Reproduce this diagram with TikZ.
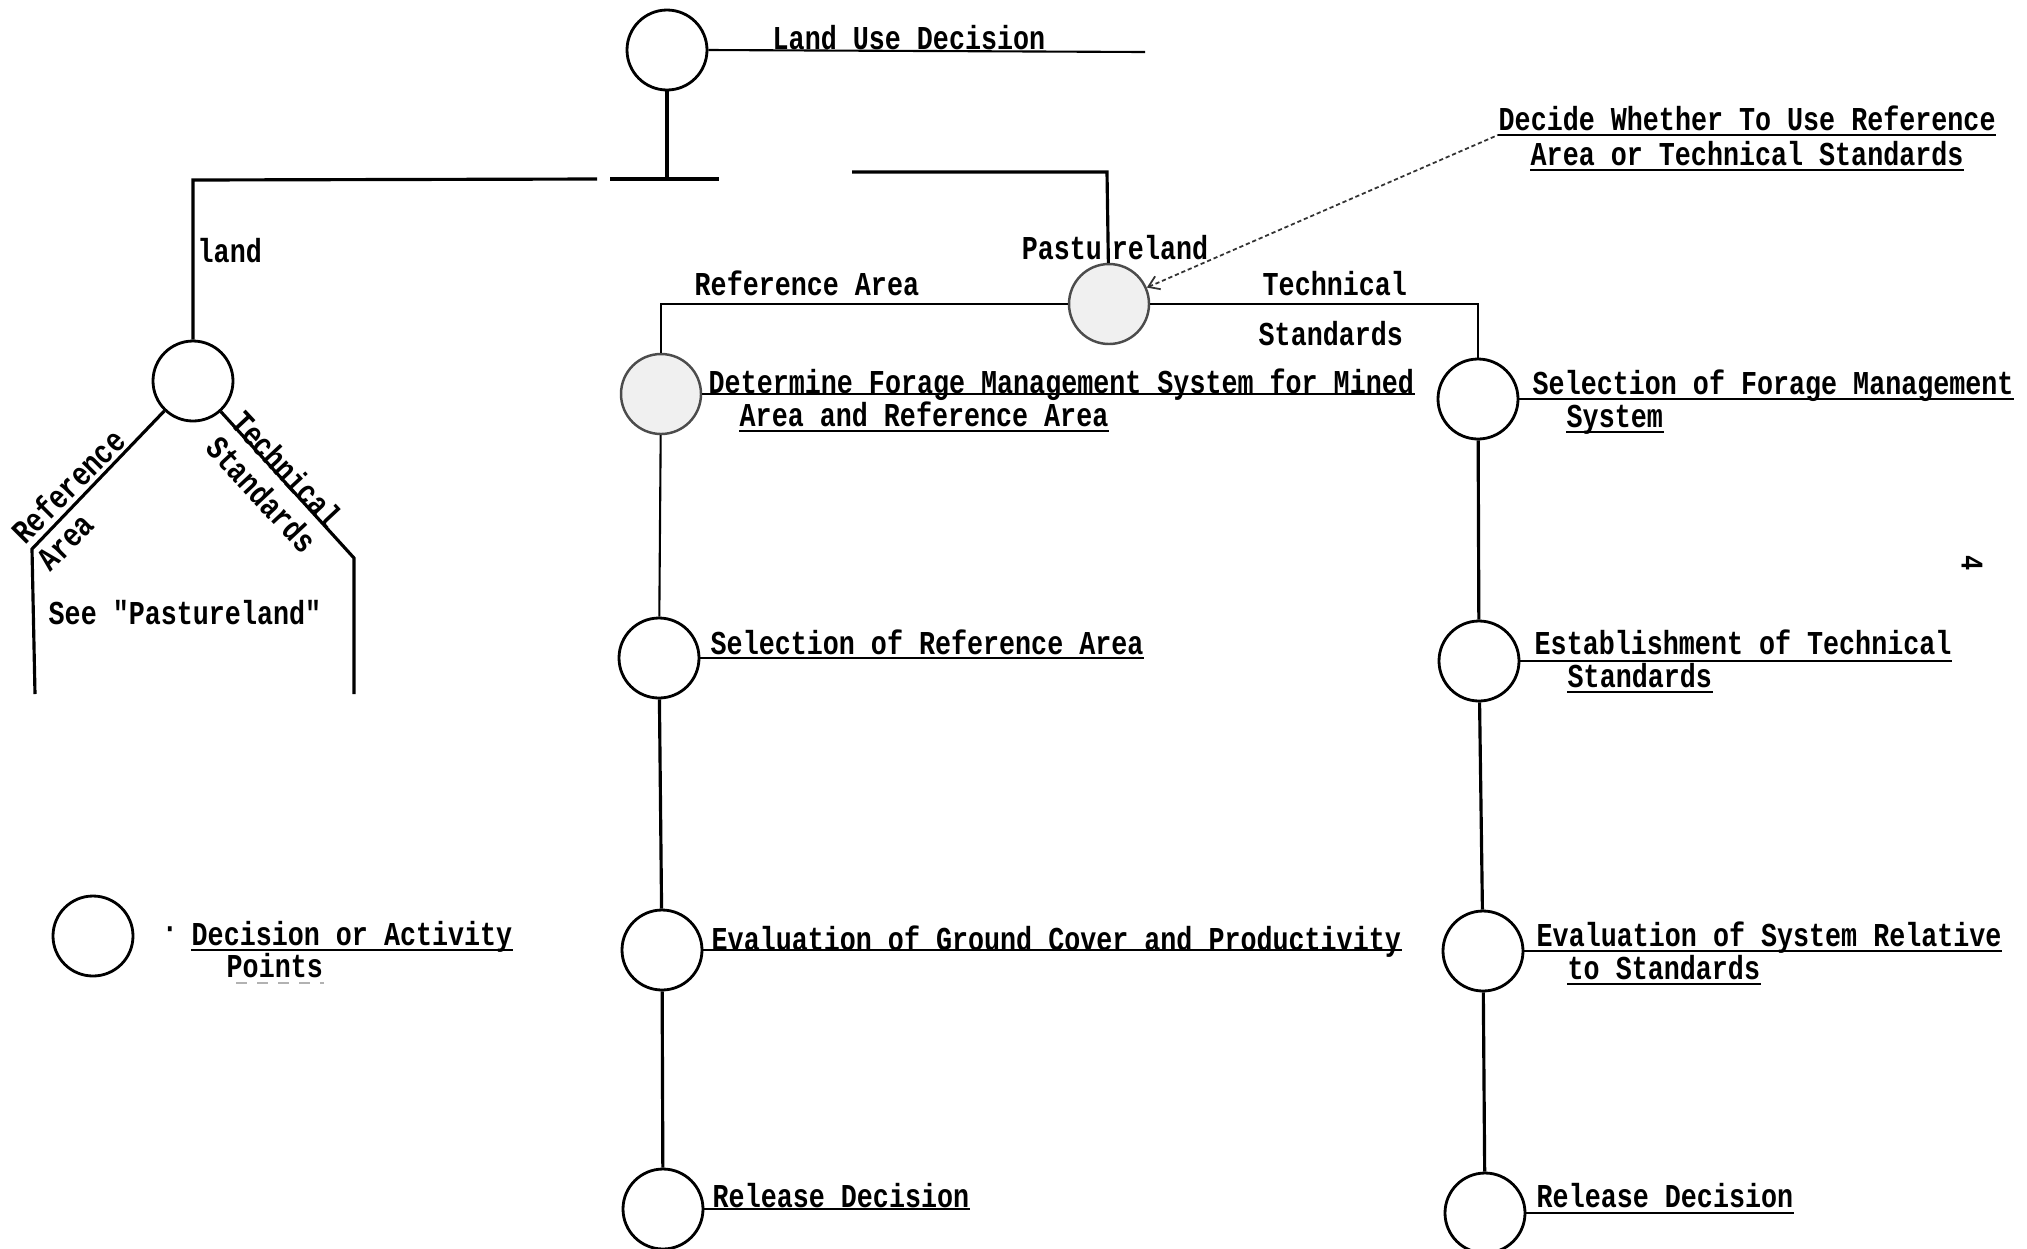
\documentclass[tikz,border=0pt]{standalone}
\usepackage{fontspec}
\setmonofont{Liberation Mono}[FakeStretch=0.8]
\usetikzlibrary{arrows.meta}
\newcommand\twfont{\ttfamily\bfseries\fontsize{9.5}{11}\selectfont}

\begin{document}
\begin{tikzpicture}[
  x=0.1mm, y=-0.1mm,
  font=\twfont,
  dpt/.style={circle, draw, line width=0.8pt, minimum size=8mm, inner sep=0pt},
  shpt/.style={dpt, draw=black!70, line width=0.7pt, fill=gray!12},
  lbl/.style={anchor=base west, inner sep=0pt},
  tag/.style={inner sep=0pt},
  ln/.style={line width=0.9pt},
  thn/.style={line width=0.6pt},
  ul/.style={line width=0.6pt},
  lead/.style={line width=0.5pt, dash pattern=on 1.2pt off 0.8pt, black!80}
]
\useasboundingbox (0,0) rectangle (2027,1248);

% decision points
\node[dpt] (landuse) at (667,50) {};
\node[dpt] (crop) at (193,381) {};
\node[dpt] (legend) at (93,936) {};
\node[shpt] (pasture) at (1109,304) {};
\node[shpt] (detfm) at (661,394) {};
\node[dpt] (selref) at (659,658) {};
\node[dpt] (evalgc) at (662,950) {};
\node[dpt] (relref) at (663,1209) {};
\node[dpt] (selfm) at (1478,399) {};
\node[dpt] (estts) at (1479,661) {};
\node[dpt] (evalsr) at (1483,951) {};
\node[dpt] (relts) at (1485,1213) {};

% texts beside the points
\node[lbl] (tLand) at (772,49) {Land Use Decision};
\node[lbl] (tDet) at (708,393) {Determine Forage Management System for Mined};
\node[lbl] (tDetb) at (739,426) {Area and Reference Area};
\node[lbl] (tSelRef) at (710,654) {Selection of Reference Area};
\node[lbl] (tEvalGC) at (711,950) {Evaluation of Ground Cover and Productivity};
\node[lbl] (tRelRef) at (712,1207) {Release Decision};
\node[lbl] (tSelFM) at (1532,394) {Selection of Forage Management};
\node[lbl] (tSelFMb) at (1566,427) {System};
\node[lbl] (tEstTS) at (1534,654) {Establishment of Technical};
\node[lbl] (tEstTSb) at (1567,687) {Standards};
\node[lbl] (tEvalSR) at (1536,946) {Evaluation of System Relative};
\node[lbl] (tEvalSRb) at (1567,979) {to Standards};
\node[lbl] (tRelTS) at (1536,1207) {Release Decision};
\node[lbl] (tDec) at (1498,130) {Decide Whether To Use Reference};
\node[lbl] (tDecb) at (1530,165) {Area or Technical Standards};
\node[tag] (dot) at (170,933) {·};
\node[lbl] (tLeg) at (191,945) {Decision or Activity};
\node[lbl] (tLegb) at (226,977) {Points};

% branch labels
\node[lbl] (tCrop) at (197,262) {land};
\node[tag] (tPast) at (1115,248) {Pastu\kern1mm reland};
\node[lbl] (tRefA) at (694,295) {Reference Area};
\node[lbl] (tTech) at (1262,295) {Technical};
\node[lbl] (tStd) at (1258,345) {Standards};
\node[lbl] (tSee) at (48,624) {See "Pastureland"};
\node[tag, rotate=45] (tRef) at (68,486) {Reference};
\node[tag, rotate=45] (tArea) at (66,542) {Area};
\node[tag, rotate=-47] (tTech2) at (287,469) {Technical};
\node[tag, rotate=-47] (tStd2) at (262,494) {Standards};
\node[tag, rotate=-90, font=\twfont\small] (pageno) at (1972,563) {4};

% top tree
\coordinate (bL) at (193,180);
\coordinate (bG1) at (597,179);
\coordinate (bG2) at (610,179);
\coordinate (bG3) at (719,179);
\coordinate (bR1) at (852,172);
\coordinate (bR) at (1107,172);
\coordinate (luEnd) at (1145,52);
\draw[ul] (landuse.east) -- (luEnd);
\draw[ln] (landuse) -- (landuse |- bG2);
\draw[ln] (crop) -- (bL) -- (bG1);
\draw[ln] (bG2) -- (bG3);
\draw[ln] (bR1) -- (bR) -- (pasture);

% cropland branch
\coordinate (refA) at (32,549);
\coordinate (refB) at (35,694);
\coordinate (tsA) at (354,558);
\coordinate (tsB) at (354,694);
\draw[ln] (crop) -- (refA) -- (refB);
\draw[ln] (crop) -- (tsA) -- (tsB);

% pastureland branch
\draw[thn] (pasture) -- (pasture -| detfm) -- (detfm);
\draw[thn] (pasture) -- (pasture -| selfm) -- (selfm);
\draw[thn] (detfm) -- (selref);
\draw[ln] (selref) -- (evalgc);
\draw[ln] (evalgc) -- (relref);
\draw[ln] (selfm) -- (estts);
\draw[ln] (estts) -- (evalsr);
\draw[ln] (evalsr) -- (relts);
\draw[lead, {Straight Barb[length=3pt,width=4pt]}-] (pasture) -- ([yshift=-0.5mm]tDec.base west);

% underlines
\draw[ul] (detfm.east) -- (detfm.east -| tDet.east);
\draw[ul] (selref.east) -- (selref.east -| tSelRef.east);
\draw[ul] (evalgc.east) -- (evalgc.east -| tEvalGC.east);
\draw[ul] (relref.east) -- (relref.east -| tRelRef.east);
\draw[ul] (selfm.east) -- (selfm.east -| tSelFM.east);
\draw[ul] (estts.east) -- (estts.east -| tEstTS.east);
\draw[ul] (evalsr.east) -- (evalsr.east -| tEvalSR.east);
\draw[ul] (relts.east) -- (relts.east -| tRelTS.east);
\foreach \t in {tDetb, tSelFMb, tEstTSb, tEvalSRb, tDec, tDecb, tLeg}
  \draw[ul] ([yshift=-0.5mm]\t.base west) -- ([yshift=-0.5mm]\t.base east);
\draw[gray!60, line width=0.4pt, dashed] ([xshift=1mm, yshift=-0.6mm]tLegb.base west) -- ([yshift=-0.6mm]tLegb.base east);
\end{tikzpicture}
\end{document}
